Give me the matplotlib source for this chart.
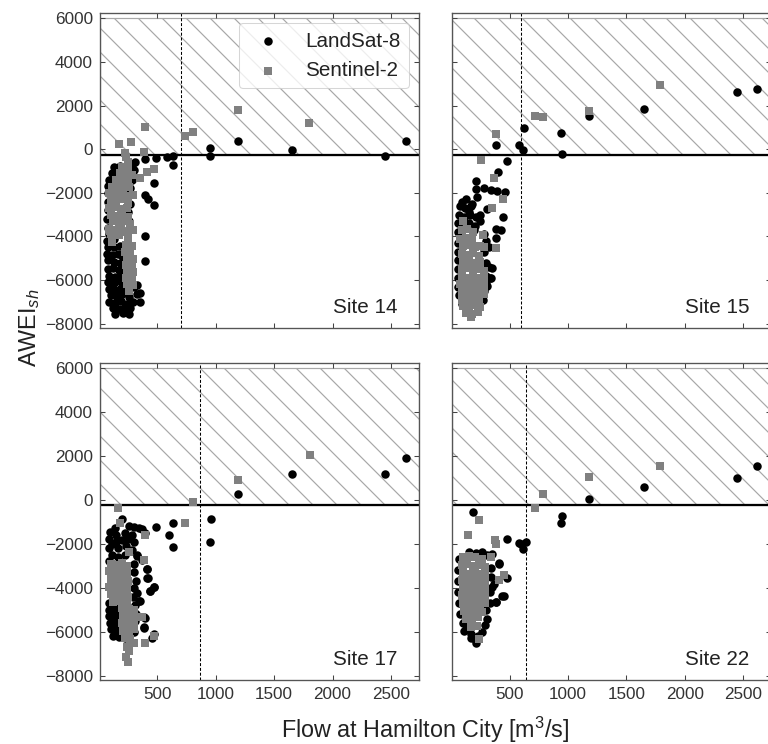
import numpy as np
import matplotlib
matplotlib.use('Agg')
import matplotlib.pyplot as plt

# ---------------- data ----------------
sites = ['Site 14', 'Site 15', 'Site 17', 'Site 22']
flow_threshold = [700, 600, 870, 640]
awei_threshold = -250
x_ticks = [500, 1000, 1500, 2000, 2500]
y_ticks = [-8000, -6000, -4000, -2000, 0, 2000, 4000, 6000]

s14_landsat = [(130,-800),(180,-750),(230,-850),(280,-700),(110,-1100),(160,-1000),(210,-1150),(260,-1050),(300,-950),
    (90,-1400),(140,-1350),(190,-1450),(240,-1300),(280,-1400),(80,-1700),(130,-1650),(180,-1750),(230,-1700),(270,-1800),
    (75,-2000),(120,-2050),(170,-2000),(220,-2100),(260,-2050),(80,-2400),(240,-2350),(270,-2500),(75,-2800),(250,-2900),
    (70,-3200),(260,-3300),(80,-3600),(250,-3700),(90,-3900),(70,-4200),(130,-4100),(240,-4300),(80,-4500),(130,-4500),(180,-4450),
    (70,-4800),(110,-4850),(160,-4800),(200,-4900),(80,-5100),(130,-5150),(180,-5200),(250,-5300),(75,-5500),(120,-5450),(170,-5550),
    (90,-5800),(140,-5850),(190,-5750),(80,-6100),(130,-6150),(180,-6050),(250,-6200),(90,-6400),(140,-6450),(190,-6350),(240,-6500),(300,-6300),
    (100,-6700),(150,-6750),(200,-6650),(260,-6800),(330,-6650),(90,-7000),(140,-7050),(190,-6950),(240,-7100),(290,-7000),(350,-7000),
    (120,-7300),(170,-7350),(220,-7250),(270,-7300),(140,-7580),(210,-7500),(260,-7550),
    (312,-607),(398,-425),(492,-380),(583,-350),(632,-300),(632,-730),(469,-1550),(398,-2120),(420,-2280),(469,-2550),
    (392,-3970),(392,-5130),(326,-6220),(349,-6600),(954,45),(954,-300),(1190,380),(1650,-50),(2450,-300),(2630,380)]
s14_sentinel = [(170,230),(278,330),(398,1000),(226,-150),(383,-120),(740,620),(806,790),(1190,1780),(1800,1210),
    (469,-910),(412,-1060),(355,-1335),
    (230,-350),(250,-600),(200,-800),(250,-900),(180,-1100),(230,-1150),(280,-1200),(150,-1400),(200,-1450),(250,-1500),
    (110,-1750),(160,-1700),(210,-1800),(260,-1750),(90,-2000),(140,-2050),(190,-2100),(240,-2150),(290,-2100),
    (100,-2350),(150,-2400),(200,-2300),(250,-2450),(90,-2700),(140,-2650),(190,-2750),(240,-2700),
    (100,-3000),(150,-3050),(200,-2950),(250,-3100),(120,-3300),(170,-3350),(220,-3300),(270,-3450),
    (90,-3650),(140,-3700),(190,-3650),(240,-3800),(290,-3700),(100,-3900),(170,-3950),(250,-4050),(113,-4245),(98,-3740),
    (230,-4400),(280,-4450),(220,-4700),(270,-4750),(240,-5000),(290,-5050),(230,-5300),(280,-5350),(240,-5600),(290,-5650),
    (230,-5900),(280,-5950),(240,-6200),(290,-6250),(255,-6520)]

s15_landsat = [(385,200),(585,200),(622,990),(614,-55),(942,760),(945,-230),(1179,1517),(1650,1866),(2449,2624),(2620,2775),
    (474,-561),(403,-1062),(214,-1441),(209,-1820),(280,-1760),(337,-1850),(394,-1900),(460,-1960),(223,-2200),(94,-2400),
    (152,-2880),(309,-2730),(446,-3109),(123,-3490),(194,-3720),(380,-3670),(423,-3720),(380,-4065),(351,-5430),(337,-5915),(309,-6294),
    (130,-2300),(180,-2500),(100,-3300),(150,-3400),(200,-3500),
    (80,-2600),(120,-2700),(170,-2600),(70,-3000),(110,-3100),(160,-3000),(210,-3100),(250,-3000),(60,-3400),(250,-3300),
    (60,-3800),(280,-3900),(300,-4200),(60,-4300),(280,-4700),(320,-4500),(60,-4700),(55,-5100),(300,-5200),(320,-5400),
    (60,-5500),(300,-5800),(330,-5900),(60,-5900),(300,-6200),(60,-6300),(280,-6500),(70,-6700),(270,-6900),(90,-7100)]
s15_sentinel = [(385,700),(722,1547),(788,1486),(1179,1744),(1784,2957),(257,-485),(371,-1335),(446,-2275),(346,-2684),
    (274,-3944),(280,-4505),(380,-4550),
    (100,-3300),(90,-3700),(140,-3650),(190,-3800),(80,-4100),(130,-4050),(180,-4150),
    (100,-4450),(150,-4400),(200,-4500),(250,-4450),(90,-4800),(140,-4850),(190,-4750),(240,-4900),(100,-5150),(150,-5100),(200,-5200),(250,-5150),
    (90,-5500),(140,-5450),(190,-5550),(240,-5500),(280,-5600),(90,-5850),(140,-5900),(190,-5800),(240,-5900),(280,-5950),
    (80,-6200),(130,-6250),(180,-6150),(230,-6250),(280,-6300),(90,-6550),(140,-6600),(190,-6500),(240,-6600),(280,-6650),
    (90,-6900),(140,-6950),(190,-6850),(240,-6950),(100,-7200),(150,-7250),(200,-7150),(250,-7250),(130,-7500),(180,-7550),(230,-7450),(170,-7700)]

s17_landsat = [(1188,275),(1655,1192),(2451,1192),(2628,1925),(960,-871),(948,-1910),(492,-1253),(632,-1054),(597,-1589),(632,-2155),
    (327,-2567),(412,-3163),(421,-3561),(474,-3973),(435,-4157),(355,-4584),(392,-5378),(389,-5806),(469,-6111),(455,-6270),
    (198,-880),(98,-1450),(141,-1300),(255,-1190),(298,-1223),(341,-1300),(370,-1345),(398,-1500),(284,-1600),(113,-1990),(198,-1834),
    (113,-2520),(326,-2520),(370,-2750),(412,-3140),(412,-3545),(469,-3970),(441,-4127),(326,-4250),(341,-4585),(384,-5320),(384,-5810),
    (150,-1600),(220,-1500),(90,-1800),(150,-1900),(250,-1800),(300,-1900),(90,-2200),(160,-2200),(230,-2100),(280,-2300),
    (160,-2600),(220,-2500),(90,-2800),(300,-2900),(300,-3300),(320,-3700),(300,-4000),(290,-4400),(310,-4800),(300,-5100),
    (90,-4700),(130,-4750),(170,-4700),(85,-5000),(130,-5050),(175,-5000),(90,-5300),(140,-5350),(180,-5300),(95,-5600),(140,-5650),(185,-5600),
    (100,-5900),(150,-5950),(190,-5850),(120,-6200),(170,-6250),(220,-6300),(260,-6150),(300,-6000),(310,-5500),(320,-5200)]
s17_sentinel = [(164,-382),(805,-76),(1188,886),(1803,2033),(740,-1030),(184,-1070),(398,-1605),(255,-2370),(383,-2750),
    (369,-5350),(398,-6500),(469,-6190),
    (100,-2900),(150,-2950),(200,-2850),(240,-3000),(90,-3250),(140,-3300),(190,-3200),(240,-3350),(100,-3600),(150,-3650),(200,-3550),(250,-3700),
    (90,-3950),(140,-4000),(190,-3900),(240,-4050),(100,-4300),(150,-4350),(200,-4250),(250,-4400),(120,-4650),(180,-4600),(240,-4700),
    (200,-4900),(260,-4950),(300,-5000),(210,-5250),(260,-5300),(300,-5200),(200,-5600),(250,-5650),(300,-5550),(210,-5950),(260,-6000),(300,-5900),
    (220,-6300),(270,-6350),(300,-6500),(240,-6700),(260,-6900),(230,-7150),(250,-7400)]

s22_landsat = [(1179,30),(1647,611),(2449,993),(2620,1528),(189,-550),(950,-718),(936,-1070),(474,-1758),(580,-1941),(637,-1910),(614,-2216),(594,-1990),
    (408,-2904),(480,-3546),(451,-4356),(385,-4661),(346,-3973),(351,-2446),(209,-2415),(409,-2873),(366,-3820),(437,-4356),(380,-4661),
    (209,-6495),(166,-6266),(109,-5961),
    (66,-2700),(60,-3200),(60,-3700),(60,-4200),(66,-4700),(80,-5200),(100,-5600),(130,-5900),(170,-6100),(200,-6350),(230,-6200),(260,-6000),
    (290,-5700),(310,-5400),(150,-2350),(260,-2350),(310,-2500),(340,-3100),(340,-3500),(330,-4200),(330,-4700),(300,-5000),(120,-5500)]
s22_sentinel = [(1179,1039),(1784,1528),(788,255),(722,-367),(240,-917),(146,-1605),(374,-1834),(380,-2017),(337,-2598),(451,-3408),(408,-3637),(237,-6313),
    (100,-2600),(150,-2550),(200,-2600),(260,-2700),(90,-2950),(140,-2900),(190,-3000),(240,-2950),(290,-3050),
    (100,-3300),(150,-3350),(200,-3250),(250,-3350),(290,-3300),(90,-3650),(140,-3700),(190,-3600),(240,-3700),(290,-3650),
    (100,-4000),(150,-4050),(200,-3950),(250,-4050),(290,-4000),(90,-4350),(140,-4400),(190,-4300),(240,-4400),(290,-4350),
    (100,-4700),(150,-4750),(200,-4650),(250,-4750),(290,-4700),(110,-5050),(160,-5100),(210,-5000),(260,-5100),
    (130,-5400),(180,-5450),(230,-5350),(170,-5800),(220,-5750)]

landsat = [s14_landsat, s15_landsat, s17_landsat, s22_landsat]
sentinel = [s14_sentinel, s15_sentinel, s17_sentinel, s22_sentinel]

# ---------------- style ----------------
plt.rcParams['font.family'] = ['Liberation Sans', 'DejaVu Sans']
plt.rcParams['mathtext.fontset'] = 'custom'
plt.rcParams['mathtext.rm'] = 'Liberation Sans'
plt.rcParams['mathtext.it'] = 'Liberation Sans:italic'
plt.rcParams['hatch.linewidth'] = 0.4
plt.rcParams['lines.scale_dashes'] = False

DPI = 216
W, H = 768, 744
fig = plt.figure(figsize=(W / DPI, H / DPI), dpi=DPI)

lefts = [100, 452.3]
tops = [(13, 328), (362.7, 680)]
pw = 319
xlim = (10, 2740)
ylim = (-8200, 6250)

axes = []
for i in range(4):
    r, c = divmod(i, 2)
    t, b = tops[r]
    rect = [lefts[c] / W, 1 - b / H, pw / W, (b - t) / H]
    kw = {}
    if axes:
        kw = dict(sharex=axes[0], sharey=axes[0])
    ax = fig.add_axes(rect, **kw)
    axes.append(ax)

for i, ax in enumerate(axes):
    r, c = divmod(i, 2)
    ax.fill_between(xlim, awei_threshold, 6000, facecolor='none', edgecolor='#a8a8a8',
                    hatch='\\\\\\', linewidth=0.4, zorder=1)
    ax.axhline(awei_threshold, color='black', lw=0.75, zorder=2)
    ax.axvline(flow_threshold[i], color='black', lw=0.35, dashes=(1.0, 0.6), zorder=2)
    ls = np.array(landsat[i]).T
    s2 = np.array(sentinel[i]).T
    ax.scatter(ls[0], ls[1], s=8, marker='o', color='black', linewidths=0, zorder=3, label='LandSat-8')
    ax.scatter(s2[0], s2[1], s=5.8, marker='s', color='#808080', linewidths=0, zorder=4, label='Sentinel-2')
    ax.text(0.932, 0.048, sites[i], transform=ax.transAxes, ha='right', va='baseline',
            fontsize=6.9, color='#222222')
    ax.set_xlim(*xlim)
    ax.set_ylim(*ylim)
    ax.set_xticks(x_ticks)
    ax.set_yticks(y_ticks)
    ax.tick_params(direction='in', top=True, right=True, length=1.7, width=0.35,
                   color='#444444', labelsize=5.7, labelcolor='#333333', pad=2.3)
    for sp in ax.spines.values():
        sp.set_color('#555555')
        sp.set_linewidth(0.45)
    if r == 0:
        ax.tick_params(labelbottom=False)
    if c == 1:
        ax.tick_params(labelleft=False)

leg = axes[0].legend(loc='upper right', fontsize=6.9, frameon=True, fancybox=True,
                     edgecolor='#cccccc', framealpha=0.8, scatterpoints=1)
leg.get_frame().set_linewidth(0.35)
for t in leg.get_texts():
    t.set_color('#222222')

fig.text(0.038, 0.56, 'AWEI$_{sh}$', rotation=90, ha='center', va='center', fontsize=7.8, color='#222222')
fig.text(0.553, 0.008, 'Flow at Hamilton City [m$^3$/s]', ha='center', va='baseline', fontsize=7.8, color='#222222')

fig.savefig('out.png', dpi=DPI)
